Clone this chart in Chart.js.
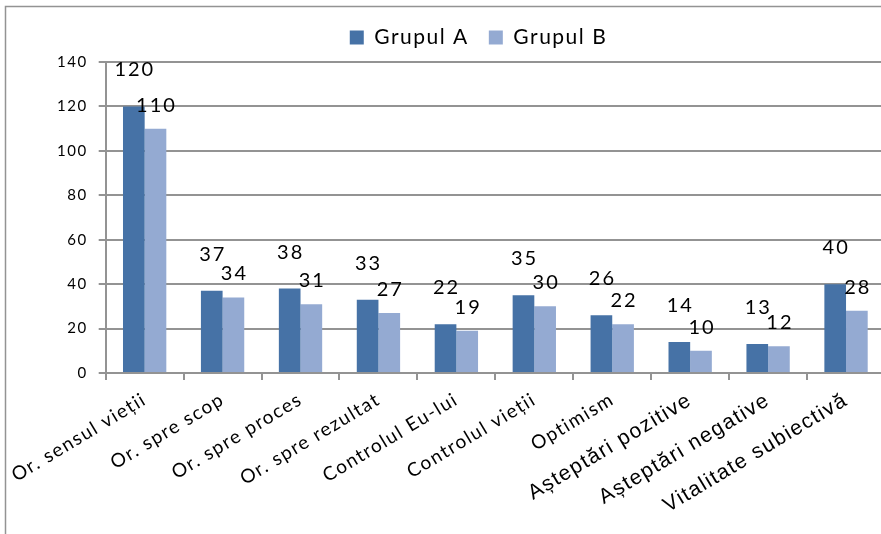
<!DOCTYPE html>
<html>
<head>
<meta charset="utf-8">
<script src="https://cdn.jsdelivr.net/npm/chart.js@4.4.1/dist/chart.umd.min.js"></script>
<style>
  html, body { margin: 0; padding: 0; background: #fff; overflow: hidden; }
  #wrap { position: relative; width: 885px; height: 534px; }
</style>
</head>
<body>
<div id="wrap"><canvas id="chart"></canvas></div>
<script>
const categories = ['Or. sensul vieții', 'Or. spre scop', 'Or. spre proces', 'Or. spre rezultat',
  'Controlul Eu-lui', 'Controlul vieții', 'Optimism', 'Așteptări pozitive', 'Așteptări negative',
  'Vitalitate subiectivă'];
const grupulA = [120, 37, 38, 33, 22, 35, 26, 14, 13, 40];
const grupulB = [110, 34, 31, 27, 19, 30, 22, 10, 12, 28];
const yTicks = [0, 20, 40, 60, 80, 100, 120, 140];

const gridGray = '#939393';

// wide-ish text like the original, plus the frame round the chart
const frame = {
  id: 'frame',
  beforeUpdate(chart) { chart.ctx.letterSpacing = '1.5px'; },
  beforeDraw(chart) {
    const ctx = chart.ctx;
    ctx.letterSpacing = '1.5px';
    ctx.save();
    ctx.strokeStyle = gridGray;
    ctx.lineWidth = 1.5;
    ctx.beginPath();
    ctx.moveTo(5.5, chart.height);
    ctx.lineTo(5.5, 6.5);
    ctx.lineTo(chart.width, 6.5);
    ctx.stroke();
    ctx.restore();
  }
};

// legend: a bit taller and centred more to the right, as in the original
const legendTweak = {
  id: 'legendTweak',
  beforeLayout(chart) {
    const lg = chart.legend;
    if (lg && !lg._tweaked) {
      const fit = lg.fit;
      lg.fit = function () { fit.call(this); this.height += 4; };
      lg._tweaked = true;
    }
  },
  afterLayout(chart) {
    chart.legend.left += 36;
    chart.legend.right += 36;
  }
};

const barLabels = {
  id: 'barLabels',
  afterDatasetsDraw(chart) {
    const ctx = chart.ctx;
    ctx.save();
    ctx.font = '20px Lato';
    ctx.letterSpacing = '2px';
    ctx.fillStyle = '#000';
    ctx.textAlign = 'center';
    ctx.textBaseline = 'alphabetic';
    chart.data.datasets.forEach((ds, i) => {
      const lift = i === 0 ? 30 : 17;
      chart.getDatasetMeta(i).data.forEach((bar, j) => {
        ctx.fillText(String(ds.data[j]), bar.x + 1, bar.y - lift);
      });
    });
    ctx.restore();
  }
};

new Chart(document.getElementById('chart'), {
  type: 'bar',
  data: {
    labels: categories,
    datasets: [
      { label: 'Grupul A', data: grupulA, backgroundColor: '#4672a6' },
      { label: 'Grupul B', data: grupulB, backgroundColor: '#94aad2' }
    ]
  },
  options: {
    responsive: true,
    maintainAspectRatio: false,
    animation: false,
    categoryPercentage: 0.556,
    barPercentage: 1,
    layout: { padding: { top: 7, left: 0, right: 0, bottom: 0 } },
    plugins: {
      tooltip: { enabled: false },
      legend: {
        position: 'top',
        labels: {
          boxWidth: 14,
          boxHeight: 14,
          padding: 20,
          color: '#000',
          font: { family: 'Lato', size: 21 }
        }
      }
    },
    scales: {
      x: {
        grid: { drawOnChartArea: false, drawTicks: true, tickLength: 7, color: gridGray, lineWidth: 2 },
        border: { color: gridGray, width: 2 },
        ticks: {
          minRotation: 31,
          maxRotation: 31,
          padding: 8,
          color: '#000',
          autoSkip: false,
          font: (c) => c.index >= 7 ? { family: 'Liberation Sans', size: 21 } : { family: 'Lato', size: 19 }
        },
        afterFit(scale) { scale.height = 534 - 373; }
      },
      y: {
        min: 0,
        max: 140,
        grid: { color: gridGray, tickLength: 7, lineWidth: 2 },
        border: { color: gridGray, width: 2 },
        ticks: { padding: 11, color: '#000', font: { family: 'Lato', size: 15 } },
        afterBuildTicks(scale) { scale.ticks = yTicks.map(v => ({ value: v })); },
        afterFit(scale) { scale.width = 105; }
      }
    }
  },
  plugins: [frame, legendTweak, barLabels]
});
</script>
</body>
</html>
